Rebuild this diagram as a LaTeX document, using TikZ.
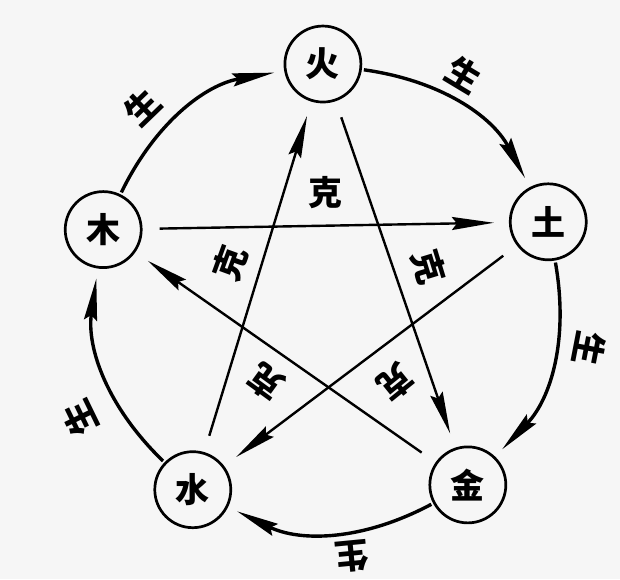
\documentclass[tikz,border=0pt]{standalone}
\usepackage{fontspec}
\newfontfamily\cjk{Noto Sans CJK SC}
\usepackage{tikz}
\usetikzlibrary{arrows.meta,automata}
\definecolor{paper}{RGB}{246,246,246}

\begin{document}
\begin{tikzpicture}[-,>={Stealth[length=42pt,width=13pt,inset=5pt]},x=1pt,y=1pt,
                    font=\cjk\bfseries\fontsize{34}{34}\selectfont]
  \tikzstyle{every state}=[fill=paper,draw=black,line width=2.7pt,
                           minimum size=76pt,inner sep=0pt,text=black,
                           font=\cjk\bfseries\fontsize{34}{34}\selectfont]
  \tikzstyle{sheng}=[->,line width=3.4pt,bend left=27,shorten <=2pt,shorten >=10pt]
  \tikzstyle{ke}=[->,line width=2.4pt,shorten <=17pt,shorten >=15pt]

  \fill[paper] (-327,-281) rectangle (293,298);

  \node[state] (H) at (91:234)  {火};
  \node[state] (T) at (19:234)  {土};
  \node[state] (J) at (-53:234) {金};
  \node[state] (S) at (235:234) {水};
  \node[state] (M) at (163:234) {木};

  % sheng cycle
  \path (M) edge[sheng] (H)
        (H) edge[sheng] (T)
        (T) edge[sheng] (J)
        (J) edge[sheng] (S)
        (S) edge[sheng] (M);

  % ke star
  \path (M) edge[ke] (T)
        (T) edge[ke] (S)
        (S) edge[ke] (H)
        (H) edge[ke] (J)
        (J) edge[ke] (M);

  \node[rotate=44]     (s1) at (134:265)   {生};
  \node[rotate=-31]    (s2) at (58.6:262)  {生};
  \node[rotate=-101]   (s3) at (-11:267)   {生};
  \node[rotate=-174.5] (s4) at (-84.5:260) {生};
  \node[rotate=116]    (s5) at (206:275)   {生};

  \node                (k1) at (91:105)    {克};
  \node[rotate=70]     (k2) at (160:103)   {克};
  \node[rotate=-73]    (k3) at (17:106)    {克};
  \node[rotate=144]    (k4) at (234:104)   {克};
  \node[rotate=-141]   (k5) at (-51:108)   {克};
\end{tikzpicture}
\end{document}
